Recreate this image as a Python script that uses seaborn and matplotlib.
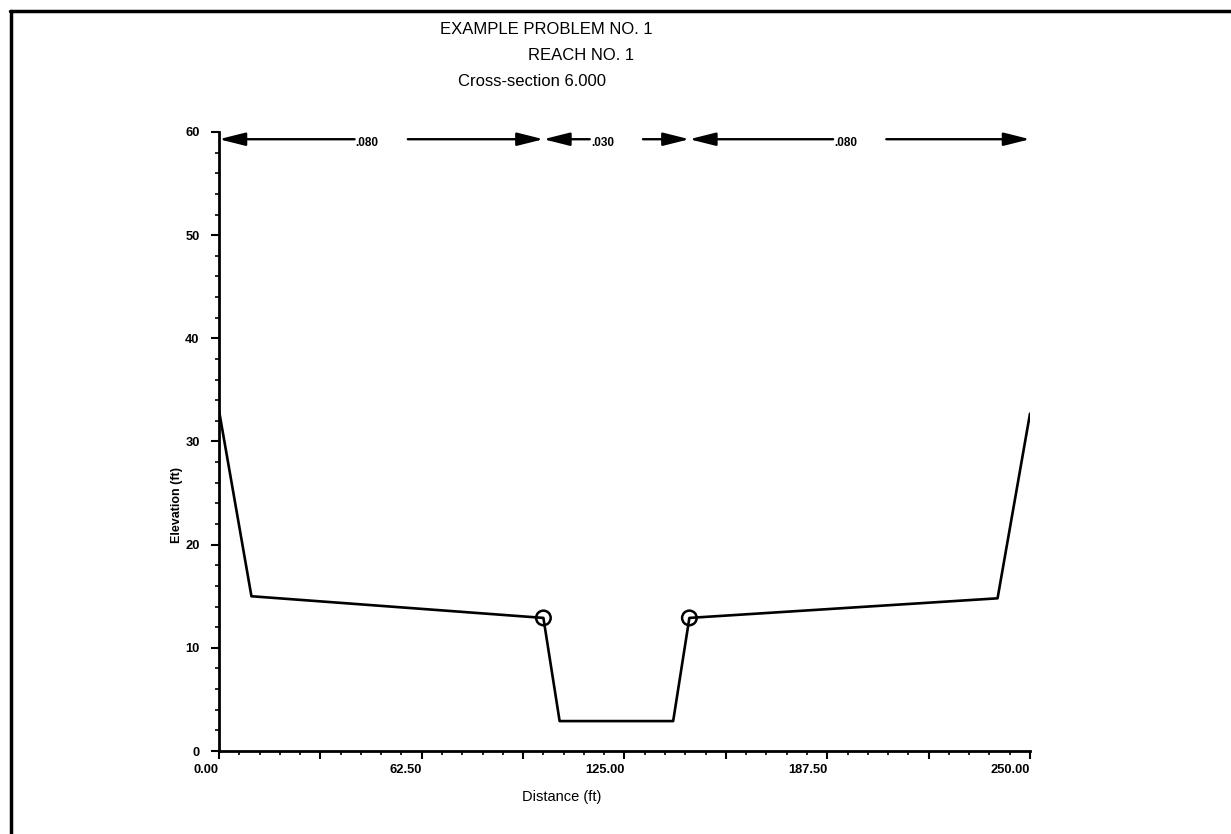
import numpy as np
import pandas as pd
import seaborn as sns
import matplotlib.pyplot as plt
from matplotlib.ticker import MultipleLocator, FuncFormatter

# cross-section 6.000 ground profile
station = [0, 10, 100, 105, 140, 145, 240, 250]
elevation = [33.0, 15.0, 12.9, 2.9, 2.9, 12.9, 14.8, 32.7]

# bank stations (circled points)
bank_station = [100, 145]
bank_elev = [12.9, 12.9]

# Manning's n sub-reaches
n_start = [0, 100, 145]
n_end = [100, 145, 250]
n_value = ['.080', '.030', '.080']

titles = ['EXAMPLE PROBLEM NO. 1', 'REACH NO. 1', 'Cross-section 6.000']

sns.set_style('ticks', {'text.color': 'black', 'axes.labelcolor': 'black',
                        'xtick.color': 'black', 'ytick.color': 'black'})
plt.rcParams['font.family'] = ['Liberation Sans', 'DejaVu Sans']

fig = plt.figure(figsize=(12.31, 8.34), dpi=100)
ax = fig.add_axes([219 / 1231, 1 - 751 / 834, 811 / 1231, 619 / 834])

df = pd.DataFrame({'Distance': station, 'Elevation': elevation})
sns.lineplot(data=df, x='Distance', y='Elevation', sort=False, color='black',
             lw=1.9, ax=ax)
sns.scatterplot(x=bank_station, y=bank_elev, marker='o', s=110,
                facecolor='none', edgecolor='black', linewidth=1.8, ax=ax, zorder=3)

# n-value arrows, label sits in a gap around the middle
y_arr = 59.3
gap = 8.2
for a, b, lab in zip(n_start, n_end, n_value):
    mid = (a + b) / 2
    for start, end in ((mid - gap, a), (mid + gap, b)):
        ax.annotate('', xy=(end, y_arr), xytext=(start, y_arr),
                    arrowprops=dict(arrowstyle='-|>,head_length=0.8,head_width=0.2',
                                    color='black', lw=1.7, mutation_scale=20,
                                    shrinkA=0, shrinkB=0),
                    annotation_clip=False)
    ax.text(mid - gap + 0.3, y_arr - 0.35, lab, ha='left', va='center',
            fontsize=8.5, fontweight='bold', color='black')

ax.set_xlim(0, 250)
ax.set_ylim(0, 60)
ax.xaxis.set_major_locator(MultipleLocator(31.25))
ax.xaxis.set_minor_locator(MultipleLocator(6.25))
ax.xaxis.set_major_formatter(FuncFormatter(
    lambda v, p: f'{v:.2f}' if abs(v / 62.5 - round(v / 62.5)) < 1e-6 else ''))
ax.yaxis.set_major_locator(MultipleLocator(10))
ax.yaxis.set_minor_locator(MultipleLocator(2))
ax.tick_params(axis='both', which='major', length=6, width=1.5,
               labelsize=9.3, direction='out', color='black', labelcolor='black')
ax.tick_params(axis='y', which='major', pad=8)
ax.tick_params(axis='both', which='minor', length=3, width=1.2, direction='out')
for lbl in ax.get_xticklabels() + ax.get_yticklabels():
    lbl.set_fontweight('bold')
# x labels end at their tick
for lbl in ax.get_xticklabels():
    lbl.set_horizontalalignment('right')

ax.set_xlabel('Distance (ft)', fontsize=10.5, color='black')
ax.xaxis.set_label_coords((562 - 219) / 811, (751 - 797) / 619)
ax.xaxis.label.set_verticalalignment('center')
ax.set_ylabel('Elevation (ft)', fontsize=9, fontweight='bold', color='black')
ax.yaxis.set_label_coords((177 - 219) / 811, (751 - 505) / 619)
ax.yaxis.label.set_verticalalignment('center')

sns.despine(ax=ax)
for s in ('left', 'bottom'):
    ax.spines[s].set_linewidth(2)
    ax.spines[s].set_color('black')

fig.text(440 / 1231, 1 - 30 / 834, titles[0], fontsize=12, va='center', color='black')
fig.text(528 / 1231, 1 - 56 / 834, titles[1], fontsize=12, va='center', color='black')
fig.text(458 / 1231, 1 - 82 / 834, titles[2], fontsize=12, va='center', color='black')

# page frame (top and left edges)
fig.add_artist(plt.Line2D([10 / 1231, 1], [1 - 11 / 834, 1 - 11 / 834],
                          color='black', lw=2.5, transform=fig.transFigure))
fig.add_artist(plt.Line2D([11 / 1231, 11 / 1231], [0, 1 - 11 / 834],
                          color='black', lw=2.5, transform=fig.transFigure))

fig.savefig('out.png', dpi=100, facecolor='white')
